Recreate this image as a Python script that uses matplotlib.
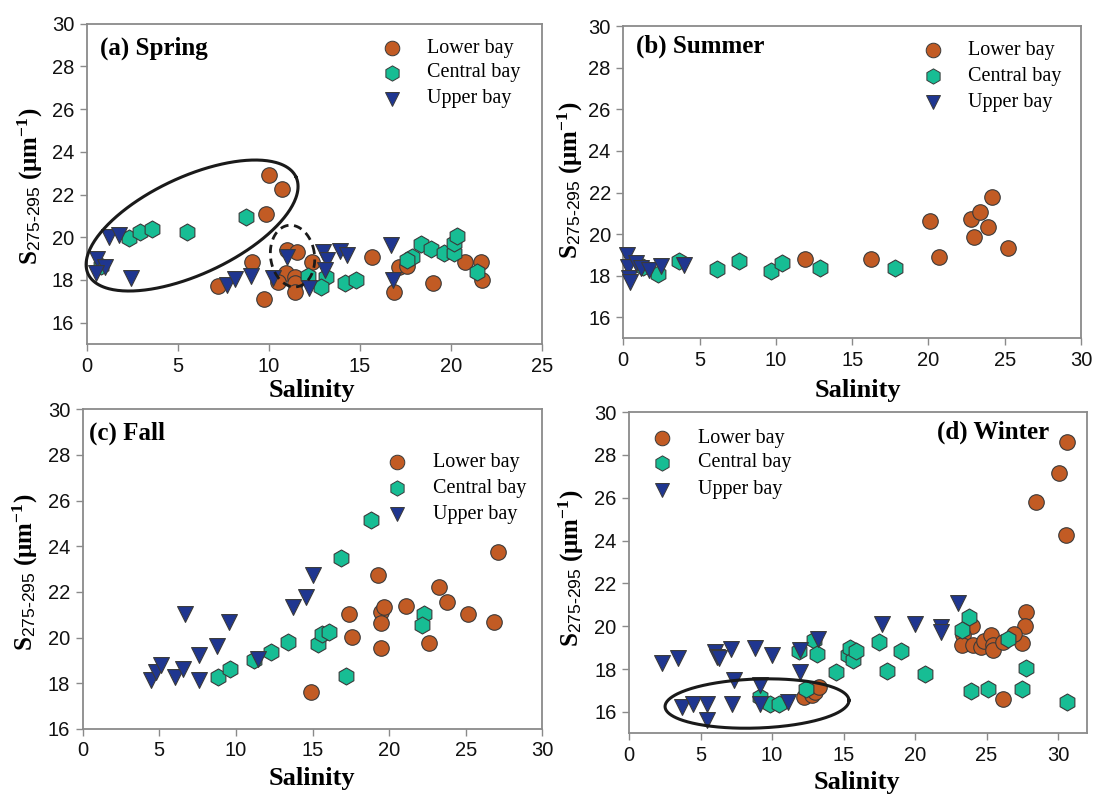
import numpy as np
import matplotlib
matplotlib.use("Agg")
import matplotlib.pyplot as plt
from matplotlib.lines import Line2D

plt.rcParams['font.family'] = ['Liberation Sans', 'DejaVu Sans']
plt.rcParams['mathtext.fontset'] = 'custom'
plt.rcParams['mathtext.rm'] = 'Liberation Serif:bold'
plt.rcParams['mathtext.bf'] = 'Liberation Serif:bold'
plt.rcParams['mathtext.it'] = 'Liberation Serif:bold:italic'
plt.rcParams['mathtext.sf'] = 'Liberation Sans'

# ---------------- data ----------------
series_names = ["Lower bay", "Central bay", "Upper bay"]

a_lower_x = [10.03, 10.75, 9.83, 9.10, 7.23, 9.76, 11.02, 11.57, 12.36, 10.95, 10.53, 11.45, 11.45, 11.45,
             15.69, 17.16, 17.58, 16.88, 19.01, 20.77, 21.68, 21.70]
a_lower_y = [22.92, 22.25, 21.09, 18.86, 17.73, 17.11, 19.40, 19.33, 18.83, 18.34, 17.92, 18.15, 17.85, 17.45,
             19.06, 18.62, 18.67, 17.42, 17.85, 18.83, 18.86, 18.00]
a_central_x = [0.79, 2.32, 2.93, 3.61, 5.49, 8.74, 12.18, 13.13, 12.86, 14.19, 14.80, 17.86, 17.62, 18.35,
               18.92, 19.65, 20.20, 20.20, 20.33, 21.43]
a_central_y = [18.66, 19.95, 20.26, 20.37, 20.23, 20.96, 18.20, 18.13, 17.69, 17.87, 18.00, 19.09, 18.94, 19.69,
               19.45, 19.25, 19.25, 19.72, 20.06, 18.39]
a_upper_x = [1.23, 1.77, 0.55, 1.00, 0.49, 2.43, 7.69, 8.15, 9.01, 10.25, 11.02, 12.21, 13.00, 13.19, 13.09,
             13.92, 14.32, 16.70, 16.85]
a_upper_y = [20.03, 20.11, 18.97, 18.62, 18.31, 18.11, 17.77, 18.05, 18.20, 18.08, 19.06, 17.61, 19.33, 18.94,
             18.47, 19.37, 19.17, 19.64, 18.00]

b_lower_x = [11.94, 16.25, 20.08, 20.67, 22.82, 23.36, 24.17, 23.91, 22.97, 25.20]
b_lower_y = [18.79, 18.79, 20.63, 18.91, 20.73, 21.05, 21.80, 20.36, 19.85, 19.35]
b_central_x = [1.31, 2.30, 3.65, 6.17, 7.59, 9.67, 10.39, 12.91, 17.78]
b_central_y = [18.43, 18.08, 18.72, 18.32, 18.72, 18.24, 18.63, 18.40, 18.40]
b_upper_x = [0.22, 0.33, 0.37, 0.44, 0.83, 1.14, 1.71, 2.47, 3.98]
b_upper_y = [18.99, 18.43, 17.88, 17.71, 18.60, 18.36, 18.27, 18.48, 18.51]

c_lower_x = [14.89, 17.37, 17.55, 19.28, 19.44, 19.65, 19.44, 19.44, 21.09, 22.61, 23.26, 23.78, 25.18, 26.83, 27.11]
c_lower_y = [17.63, 21.03, 20.04, 22.74, 21.13, 21.35, 20.63, 19.56, 21.38, 19.75, 22.23, 21.57, 21.03, 20.70, 23.73]
c_central_x = [8.85, 9.61, 11.17, 12.26, 13.41, 15.33, 15.59, 16.09, 17.16, 16.83, 18.80, 22.26, 22.13]
c_central_y = [18.26, 18.61, 19.02, 19.36, 19.82, 19.72, 20.16, 20.23, 18.32, 23.47, 25.15, 21.03, 20.54]
c_upper_x = [4.44, 4.78, 5.09, 6.02, 6.52, 6.67, 7.61, 7.59, 8.78, 9.54, 11.46, 13.74, 14.55, 15.04]
c_upper_y = [18.14, 18.51, 18.80, 18.29, 18.61, 21.03, 18.14, 19.24, 19.65, 20.70, 19.06, 21.35, 21.79, 22.74]

d_lower_x = [12.26, 12.77, 13.00, 13.29, 30.65, 30.07, 28.44, 30.54, 27.76, 27.69, 27.46, 26.92, 23.96, 23.38,
             23.31, 24.03, 24.59, 24.83, 25.29, 25.43, 25.43, 26.17, 26.17]
d_lower_y = [16.70, 16.78, 16.93, 17.14, 28.59, 27.17, 25.81, 24.26, 20.67, 20.02, 19.22, 19.62, 20.02, 19.58,
             19.12, 19.12, 19.04, 19.32, 19.58, 19.12, 18.88, 19.27, 16.58]
d_central_x = [9.16, 9.86, 10.51, 12.38, 11.89, 12.94, 13.17, 14.45, 15.34, 15.45, 15.69, 15.85, 17.51, 19.00,
               18.02, 20.70, 23.80, 23.31, 23.89, 25.13, 26.52, 27.74, 27.51, 30.61]
d_central_y = [16.70, 16.36, 16.39, 17.05, 18.85, 19.35, 18.70, 17.84, 18.65, 18.96, 18.42, 18.85, 19.27, 18.85,
               17.92, 17.76, 20.41, 19.82, 16.98, 17.05, 19.40, 18.03, 17.09, 16.47]
d_upper_x = [2.29, 3.45, 3.69, 4.50, 5.43, 5.43, 6.01, 6.13, 6.29, 7.13, 7.34, 7.23, 8.81, 9.16, 9.16, 9.98,
             11.14, 11.96, 11.96, 13.24, 17.72, 20.02, 21.80, 21.80, 23.03]
d_upper_y = [18.29, 18.50, 16.21, 16.39, 16.36, 15.64, 18.80, 18.57, 18.50, 18.92, 17.48, 16.39, 18.96, 17.25,
             16.39, 18.65, 16.47, 17.87, 18.88, 19.38, 20.10, 20.10, 19.95, 19.75, 21.07]

panel_titles = ["(a) Spring", "(b) Summer", "(c) Fall", "(d) Winter"]
x_ticks = [[0, 5, 10, 15, 20, 25], [0, 5, 10, 15, 20, 25, 30], [0, 5, 10, 15, 20, 25, 30],
           [0, 5, 10, 15, 20, 25, 30]]
y_ticks = [16, 18, 20, 22, 24, 26, 28, 30]

# ---------------- style ----------------
W, H = 1095, 796
DPI = 100
COL_LOWER = '#c25b24'
COL_CENTRAL = '#17bd94'
COL_UPPER = '#1f3690'
EDGE = '#3a3a3a'
SPINE = '#8a8a8a'
serif = ['Liberation Serif', 'DejaVu Serif']

fig = plt.figure(figsize=(W / DPI, H / DPI), dpi=DPI)
fig.patch.set_facecolor('white')


def add_ax(L, R, T, B):
    return fig.add_axes([L / W, 1 - B / H, (R - L) / W, (B - T) / H])


# pixel boxes: (left, right, top, bottom), limits
boxes = [((86.7, 541.7, 23.8, 344.0), (0, 25), (15, 30)),
         ((623.3, 1081.0, 26.0, 338.3), (0, 30), (15, 30)),
         ((82.7, 542.3, 409.3, 729.0), (0, 30), (16, 30)),
         ((629.0, 1086.7, 412.0, 733.3), (0, 32), (15, 30))]

data = [((a_lower_x, a_lower_y), (a_central_x, a_central_y), (a_upper_x, a_upper_y)),
        ((b_lower_x, b_lower_y), (b_central_x, b_central_y), (b_upper_x, b_upper_y)),
        ((c_lower_x, c_lower_y), (c_central_x, c_central_y), (c_upper_x, c_upper_y)),
        ((d_lower_x, d_lower_y), (d_central_x, d_central_y), (d_upper_x, d_upper_y))]

title_pos = [(100, 48), (636, 46), (89, 433), (937, 432)]
legend_pos = [(392, 427, [48, 73, 99]), (933, 968, [50, 76, 102]),
              (397, 433, [462, 488, 514]), (662, 698, [438, 463, 490])]
ylabel_pos = [(30, 186), (570, 180), (25, 572), (571, 568)]
xlabel_pos = [(312, 391), (858, 391), (312, 779), (857, 782)]

axes = []
for i, ((L, R, T, B), xl, yl) in enumerate(boxes):
    ax = add_ax(L, R, T, B)
    axes.append(ax)
    ax.set_xlim(*xl)
    ax.set_ylim(*yl)
    ax.set_xticks(x_ticks[i])
    ax.set_yticks(y_ticks)
    ax.tick_params(direction='out', length=5, width=1.0, color=SPINE, labelsize=14.5,
                   labelcolor='#111111', pad=4)
    for s in ax.spines.values():
        s.set_color(SPINE)
        s.set_linewidth(1.3)
    (lx, ly), (cx, cy), (ux, uy) = data[i]
    ax.scatter(lx, ly, s=125, marker='o', facecolor=COL_LOWER, edgecolor=EDGE, linewidth=0.8, zorder=3,
               clip_on=False)
    ax.scatter(cx, cy, s=150, marker='h', facecolor=COL_CENTRAL, edgecolor=EDGE, linewidth=0.8, zorder=4,
               clip_on=False)
    ax.scatter(ux, uy, s=130, marker='v', facecolor=COL_UPPER, edgecolor=EDGE, linewidth=0.8, zorder=5,
               clip_on=False)

    tx, ty = title_pos[i]
    fig.text(tx / W, 1 - ty / H, panel_titles[i], family=serif, fontweight='bold', fontsize=18,
             ha='left', va='center')
    mx, txx, rows = legend_pos[i]
    for name, mk, col, ry, ms in zip(series_names, ['o', 'h', 'v'], [COL_LOWER, COL_CENTRAL, COL_UPPER],
                                     rows, [10.5, 11, 10.5]):
        fig.add_artist(Line2D([mx / W], [1 - ry / H], marker=mk, markersize=ms, markerfacecolor=col,
                              markeredgecolor=EDGE, markeredgewidth=0.7, linestyle='none',
                              transform=fig.transFigure))
        fig.text(txx / W, 1 - ry / H, name, family=serif, fontsize=14.5, ha='left', va='center')
    xx, xy = xlabel_pos[i]
    fig.text(xx / W, 1 - xy / H, 'Salinity', family=serif, fontweight='bold', fontsize=19,
             ha='center', va='center')
    yx, yy = ylabel_pos[i]
    fig.text(yx / W, 1 - yy / H, r'$\mathrm{S}_{\mathsf{275\text{-}295}}\ \mathrm{(\mu m^{-1})}$',
             fontsize=18, rotation=90, ha='center', va='center')


def draw_ellipse(ax, cx, cy, a_px, b_px, angle_deg, **kw):
    bb = ax.get_position()
    x0, x1 = ax.get_xlim()
    y0, y1 = ax.get_ylim()
    sx = bb.width * W / (x1 - x0)
    sy = bb.height * H / (y1 - y0)
    t = np.linspace(0, 2 * np.pi, 300)
    th = np.deg2rad(angle_deg)
    px = a_px * np.cos(t) * np.cos(th) - b_px * np.sin(t) * np.sin(th)
    py = a_px * np.cos(t) * np.sin(th) + b_px * np.sin(t) * np.cos(th)
    ax.plot(cx + px / sx, cy + py / sy, clip_on=False, zorder=6, **kw)


draw_ellipse(axes[0], 5.79, 20.55, 114.7, 48.6, 25, color='#1a1a1a', lw=2.2)
draw_ellipse(axes[0], 11.31, 19.12, 22, 31, 8, color='#1a1a1a', lw=2.0, ls=(0, (3, 2)))
draw_ellipse(axes[3], 8.95, 16.39, 92, 24.5, 2, color='#1a1a1a', lw=2.2)

fig.savefig('out.png', dpi=DPI, facecolor='white')
